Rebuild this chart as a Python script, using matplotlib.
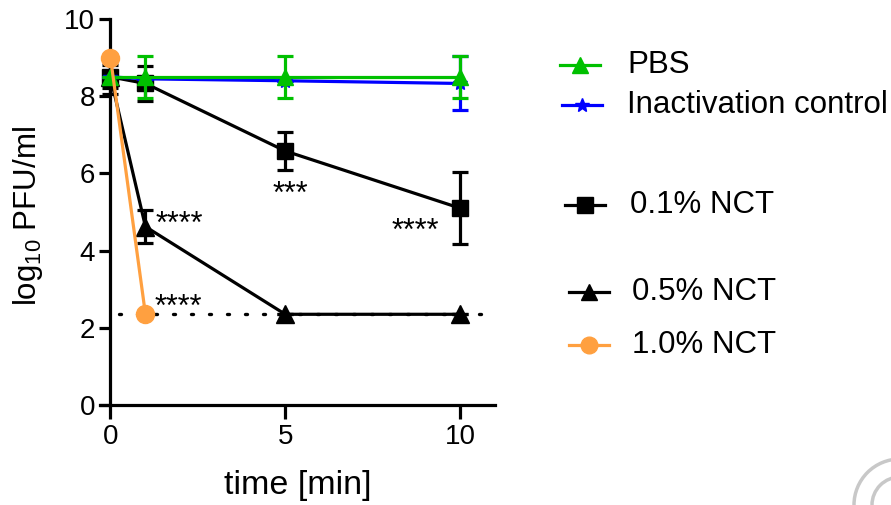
import matplotlib
matplotlib.use("Agg")
import matplotlib.pyplot as plt
from matplotlib.lines import Line2D
from matplotlib.patches import Arc

plt.rcParams["font.family"] = ["Liberation Sans", "DejaVu Sans"]
plt.rcParams["mathtext.fontset"] = "custom"
plt.rcParams["mathtext.rm"] = "Liberation Sans"

# time points [min]
t_pbs = [0, 1, 5, 10]
pbs = [8.5, 8.5, 8.5, 8.5]
pbs_err = [0.0, 0.55, 0.55, 0.55]

t_inact = [0, 1, 5, 10]
inact = [8.5, 8.45, 8.4, 8.33]
inact_err = [0.0, 0.0, 0.0, 0.7]

t_nct01 = [0, 1, 5, 10]
nct01 = [8.5, 8.33, 6.58, 5.1]
nct01_err = [0.3, 0.45, 0.48, 0.93]

t_nct05 = [0, 1, 5, 10]
nct05 = [8.5, 4.62, 2.35, 2.35]
nct05_err = [0.45, 0.42, 0.0, 0.0]

t_nct10 = [0, 1]
nct10 = [9.0, 2.35]

detection_limit = 2.35

# significance marks: (x, y centre, text, alignment)
stars = [
    (5.16, 5.70, "***", "center"),
    (1.29, 4.92, "****", "left"),
    (9.40, 4.74, "****", "right"),
    (1.27, 2.77, "****", "left"),
]

GREEN = "#00c000"
BLUE = "#0000ff"
ORANGE = "#ffa040"
BLACK = "#000000"

fig = plt.figure(figsize=(8.91, 5.05), dpi=100)
ax = fig.add_axes([100 / 891, 100 / 505, 395 / 891, 386 / 505])

lw = 2.3
ekw = dict(elinewidth=2.3, capsize=6, capthick=2.3)

dl = ax.hlines(detection_limit, 0.25, 11, colors=BLACK,
               linestyles=(0, (0.6, 4.8)), linewidth=2.4, zorder=1)
dl.set_capstyle("round")

ax.errorbar(t_nct05, nct05, yerr=nct05_err, color=BLACK, marker="^", ms=13,
            lw=lw, zorder=3, **ekw)
ax.errorbar(t_nct01, nct01, yerr=nct01_err, color=BLACK, marker="s", ms=12,
            lw=lw, zorder=3, **ekw)
ax.errorbar(t_inact, inact, yerr=inact_err, color=BLUE, marker="*", ms=11,
            lw=lw, zorder=4, **ekw)
ax.errorbar(t_pbs, pbs, yerr=pbs_err, color=GREEN, marker="^", ms=12,
            lw=lw, zorder=5, **ekw)
ax.plot(t_nct10, nct10, color=ORANGE, marker="o", ms=13, lw=lw, zorder=6,
        clip_on=False)

# asterisks sit high in the glyph box, so place them by baseline
star_fs = 22
for x, y, s, ha in stars:
    ax.text(x, y - 0.46, s, ha=ha, va="baseline", fontsize=star_fs)

ax.set_xlim(-0.3, 11)
ax.set_ylim(0, 10)
ax.spines["left"].set_position(("data", 0))
ax.spines["right"].set_visible(False)
ax.spines["top"].set_visible(False)
for side in ("left", "bottom"):
    ax.spines[side].set_linewidth(2.3)
ax.set_xticks([0, 5, 10])
ax.set_yticks([0, 2, 4, 6, 8, 10])
ax.tick_params(axis="both", width=2.3, labelsize=20, direction="out")
ax.tick_params(axis="y", length=8, pad=3)
ax.tick_params(axis="x", length=10, pad=4)
ax.set_xlabel("time [min]", fontsize=24.5, labelpad=14)
ax.set_ylabel(r"log$_{\mathregular{10}}$ PFU/ml", fontsize=22.5)
ax.yaxis.set_label_coords(-0.14, 0.49)

# legend drawn by hand because the entries are spaced unevenly
legend_rows = [
    ("PBS", GREEN, "^", 580, 65, 627),
    ("Inactivation control", BLUE, "*", 582, 105, 627),
    ("0.1% NCT", BLACK, "s", 585, 205, 630),
    ("0.5% NCT", BLACK, "^", 589, 292, 632),
    ("1.0% NCT", ORANGE, "o", 589, 345, 632),
]
W, H = 891, 505
for label, col, mk, cx, cy, tx in legend_rows:
    yy = 1 - cy / H
    fig.add_artist(Line2D([(cx - 20) / W, (cx + 20) / W], [yy, yy],
                          transform=fig.transFigure, color=col, lw=lw))
    fig.add_artist(Line2D([cx / W], [yy], transform=fig.transFigure,
                          color=col, marker=mk, ms=12 if mk != "*" else 10,
                          lw=0))
    fig.text(tx / W, yy, label, fontsize=22.5, va="center", ha="left")

# faint arcs in the lower right corner
for r in (46, 28):
    fig.add_artist(Arc((900 / W, 1 - 505 / H), 2 * r / W, 2 * r / H,
                       theta1=90, theta2=180, transform=fig.transFigure,
                       color="#c8c8c8", lw=2.5))

fig.savefig("out.png", dpi=100)
